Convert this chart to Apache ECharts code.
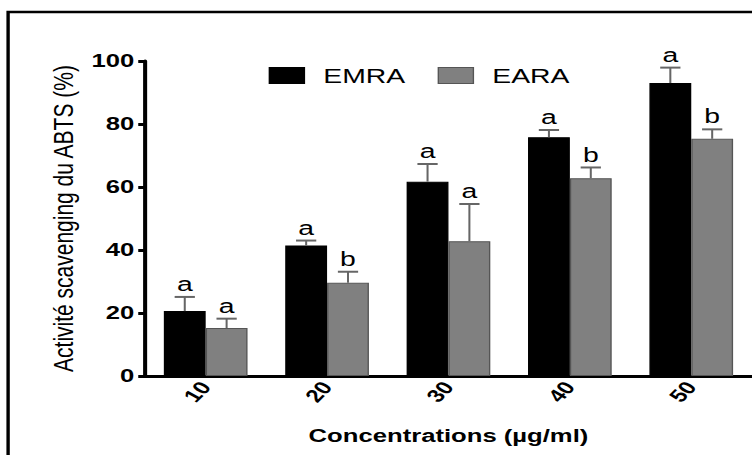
<!DOCTYPE html>
<html>
<head>
<meta charset="utf-8">
<script src="https://cdn.jsdelivr.net/npm/echarts@6/dist/echarts.min.js"></script>
<style>
html,body{margin:0;padding:0;background:#fff;overflow:hidden;}
#wrap{width:752px;height:455px;overflow:hidden;position:relative;}
#chart{width:557px;height:455px;transform:scaleX(1.35);transform-origin:0 0;}
</style>
</head>
<body>
<div id="wrap"><div id="chart"></div></div>
<script>
const categories = ['10', '20', '30', '40', '50'];
const emraValues = [20.6, 41.4, 61.7, 75.8, 93.0];
const earaValues = [15.2, 29.6, 42.8, 62.8, 75.3];
const emraErrors = [4.5, 1.6, 5.6, 2.3, 4.9];
const earaErrors = [3.0, 3.5, 11.8, 3.4, 3.0];
const emraLetters = ['a', 'a', 'a', 'a', 'a'];
const earaLetters = ['a', 'b', 'a', 'b', 'b'];
const yTicks = [0, 20, 40, 60, 80, 100];

const FONT = 'Liberation Sans, Arial, Helvetica, sans-serif';
const BAR_W = 31;

const errData = [];
categories.forEach((c, i) => {
  errData.push([i, emraValues[i], emraErrors[i], -1, emraLetters[i]]);
  errData.push([i, earaValues[i], earaErrors[i], 1, earaLetters[i]]);
});

const chart = echarts.init(document.getElementById('chart'), null, {renderer: 'svg'});
chart.setOption({
  animation: false,
  backgroundColor: '#fff',
  graphic: [{
    type: 'rect',
    shape: {x: 6, y: 12, width: 700, height: 500},
    style: {fill: 'none', stroke: '#000', lineWidth: 2.5},
    z: 0
  }],
  legend: {
    left: 194, top: 60,
    itemWidth: 26, itemHeight: 16, itemGap: 24,
    textStyle: {fontFamily: FONT, fontSize: 21, color: '#000', padding: [0, 0, 0, 9]},
    data: [
      {name: 'EMRA', icon: 'rect', itemStyle: {color: '#000', borderColor: '#000', borderWidth: 1}},
      {name: 'EARA', icon: 'rect', itemStyle: {color: '#808080', borderColor: '#555', borderWidth: 1}}
    ]
  },
  grid: {left: 107.4, top: 61, width: 461, height: 315, containLabel: false},
  xAxis: {
    type: 'category',
    data: categories,
    boundaryGap: true,
    axisLine: {lineStyle: {color: '#000', width: 3}},
    axisTick: {alignWithLabel: true, length: 7, lineStyle: {color: '#000', width: 3}},
    axisLabel: {rotate: 53, margin: 8, fontFamily: FONT, fontSize: 18, fontWeight: 'bold', color: '#000'},
    name: 'Concentrations (µg/ml)',
    nameLocation: 'middle',
    nameGap: 50,
    nameTextStyle: {fontFamily: FONT, fontSize: 19, fontWeight: 'bold', color: '#000'}
  },
  yAxis: {
    type: 'value',
    min: yTicks[0], max: yTicks[yTicks.length - 1], interval: 20,
    splitLine: {show: false},
    axisLine: {show: true, lineStyle: {color: '#000', width: 3}},
    axisTick: {show: true, length: 5, lineStyle: {color: '#000', width: 3}},
    axisLabel: {margin: 8, fontFamily: FONT, fontSize: 19, fontWeight: 'bold', color: '#000'},
    name: 'Activité scavenging du ABTS (%)',
    nameLocation: 'middle',
    nameGap: 46,
    nameTextStyle: {fontFamily: FONT, fontSize: 21, color: '#000'}
  },
  series: [
    {
      name: 'EMRA', type: 'bar', data: emraValues, barWidth: BAR_W, barGap: '0%',
      itemStyle: {color: '#000', borderColor: '#000', borderWidth: 1}, z: 2
    },
    {
      name: 'EARA', type: 'bar', data: earaValues, barWidth: BAR_W, barGap: '0%',
      itemStyle: {color: '#808080', borderColor: '#555', borderWidth: 1}, z: 2
    },
    {
      type: 'custom', z: 5,
      data: errData,
      renderItem: function (params, api) {
        const idx = api.value(0);
        const v = api.value(1);
        const e = api.value(2);
        const side = api.value(3);
        const letter = errData[params.dataIndex][4];
        const base = api.coord([idx, v]);
        const top = api.coord([idx, v + e]);
        const cx = base[0] + side * BAR_W / 2;
        const col = '#666';
        return {
          type: 'group',
          children: [
            {type: 'line', shape: {x1: cx, y1: base[1], x2: cx, y2: top[1]}, style: {stroke: col, lineWidth: 1.5}},
            {type: 'line', shape: {x1: cx - 7.5, y1: top[1], x2: cx + 7.5, y2: top[1]}, style: {stroke: col, lineWidth: 2}},
            {type: 'text', x: cx, y: top[1] - 3, style: {text: letter, fontFamily: FONT, fontSize: 21, fill: '#000', align: 'center', verticalAlign: 'bottom'}}
          ]
        };
      }
    }
  ]
});
</script>
</body>
</html>
